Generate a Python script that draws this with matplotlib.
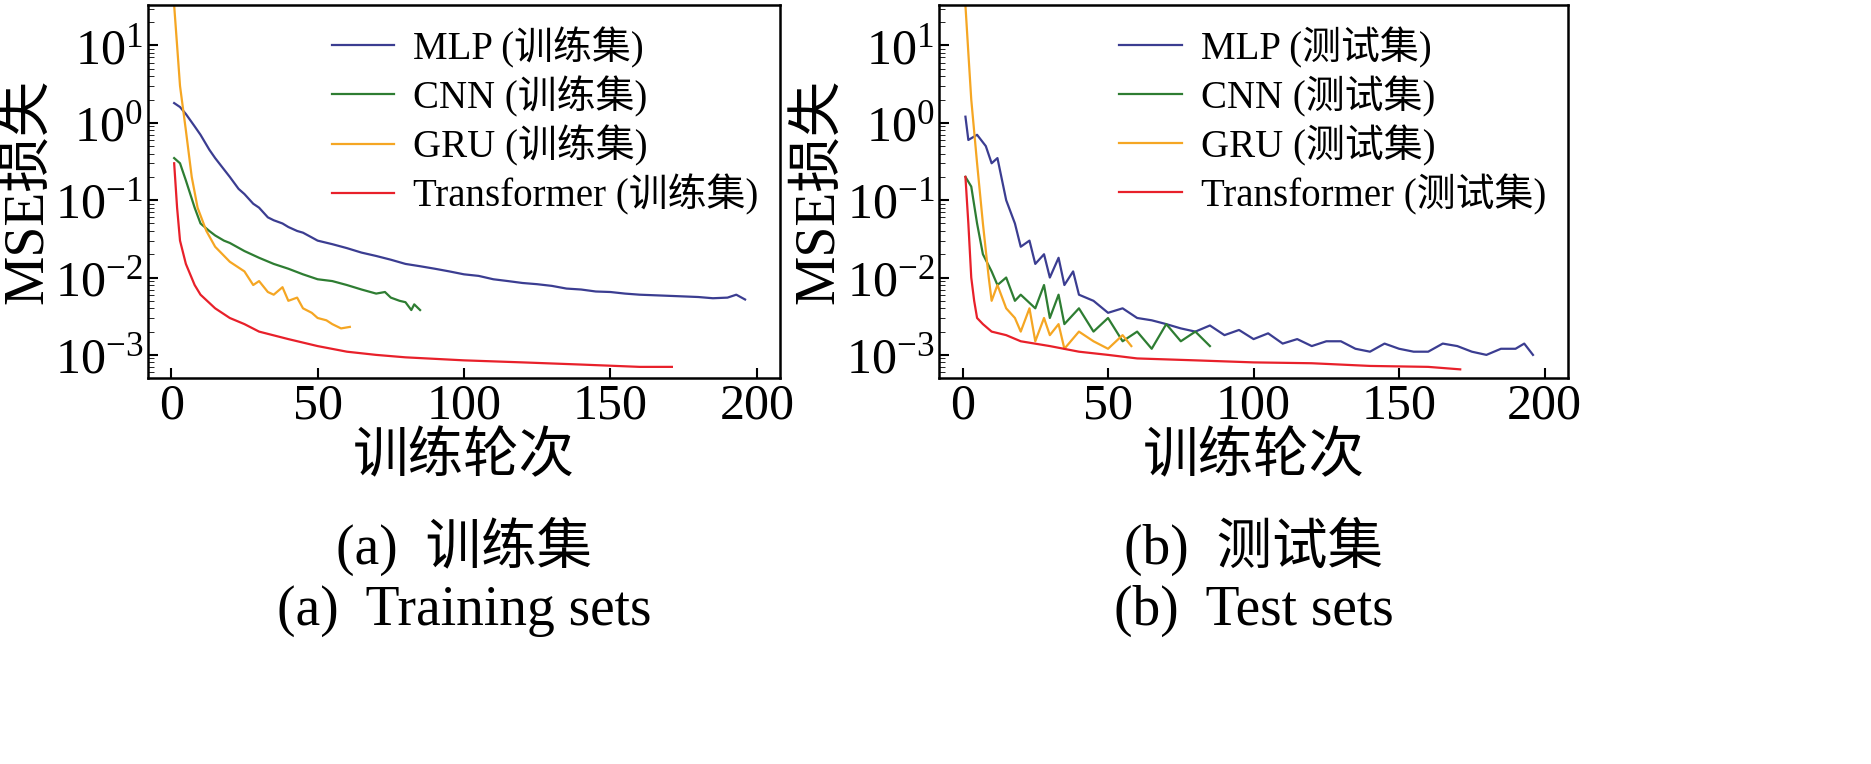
import matplotlib
matplotlib.use("Agg")
import matplotlib.pyplot as plt
from matplotlib.ticker import LogLocator, NullFormatter

plt.rcParams['font.family'] = ['Liberation Serif', 'Noto Sans CJK SC']
plt.rcParams['mathtext.fontset'] = 'stix'

# ---- training set curves (epoch, mse) ----
mlp_tr_x = [1, 3, 5, 8, 10, 13, 15, 18, 20, 23, 25, 28, 30, 33, 35, 38, 40, 43, 45, 48, 50, 55, 60, 65, 70, 75, 80, 85, 90, 95, 100, 105, 110, 115, 120, 125, 130, 135, 140, 145, 150, 155, 160, 165, 170, 175, 180, 185, 190, 193, 196]
mlp_tr_y = [1.8, 1.6, 1.3, 0.9, 0.7, 0.45, 0.35, 0.25, 0.2, 0.14, 0.12, 0.09, 0.08, 0.06, 0.055, 0.05, 0.045, 0.04, 0.038, 0.033, 0.03, 0.027, 0.024, 0.021, 0.019, 0.017, 0.015, 0.014, 0.013, 0.012, 0.011, 0.0105, 0.0095, 0.009, 0.0085, 0.0082, 0.0078, 0.0072, 0.007, 0.0066, 0.0065, 0.0062, 0.006, 0.0059, 0.0058, 0.0057, 0.0056, 0.0054, 0.0055, 0.006, 0.0052]
cnn_tr_x = [1, 3, 5, 8, 10, 13, 15, 18, 20, 25, 30, 35, 40, 45, 50, 55, 60, 65, 70, 73, 75, 78, 80, 82, 83, 85]
cnn_tr_y = [0.35, 0.3, 0.18, 0.08, 0.05, 0.04, 0.035, 0.03, 0.028, 0.022, 0.018, 0.015, 0.013, 0.011, 0.0095, 0.009, 0.008, 0.007, 0.0062, 0.0065, 0.0055, 0.005, 0.0048, 0.0038, 0.0045, 0.0038]
gru_tr_x = [1, 2, 3, 5, 7, 9, 12, 15, 20, 25, 28, 30, 33, 35, 38, 40, 43, 45, 48, 50, 53, 55, 58, 61]
gru_tr_y = [33, 10, 3, 0.8, 0.2, 0.08, 0.04, 0.025, 0.016, 0.012, 0.008, 0.009, 0.0065, 0.006, 0.0075, 0.005, 0.0055, 0.004, 0.0035, 0.003, 0.0028, 0.0025, 0.0022, 0.0023]
trf_tr_x = [1, 2, 3, 5, 8, 10, 15, 20, 25, 30, 40, 50, 60, 70, 80, 100, 120, 140, 160, 171]
trf_tr_y = [0.3, 0.08, 0.03, 0.015, 0.008, 0.006, 0.004, 0.003, 0.0025, 0.002, 0.0016, 0.0013, 0.0011, 0.001, 0.00093, 0.00085, 0.0008, 0.00075, 0.0007, 0.0007]

# ---- test set curves ----
mlp_te_x = [1, 2, 5, 8, 10, 12, 15, 18, 20, 23, 25, 28, 30, 33, 35, 38, 40, 45, 50, 55, 60, 65, 70, 75, 80, 85, 90, 95, 100, 105, 110, 115, 120, 125, 130, 135, 140, 145, 150, 155, 160, 165, 170, 175, 180, 185, 190, 193, 196]
mlp_te_y = [1.2, 0.6, 0.7, 0.5, 0.3, 0.35, 0.1, 0.05, 0.025, 0.03, 0.015, 0.02, 0.01, 0.018, 0.008, 0.012, 0.006, 0.005, 0.0035, 0.004, 0.003, 0.0028, 0.0025, 0.0022, 0.002, 0.0024, 0.0018, 0.0021, 0.0016, 0.0019, 0.0014, 0.0016, 0.0013, 0.0015, 0.0015, 0.0012, 0.0011, 0.0014, 0.0012, 0.0011, 0.0011, 0.0014, 0.0013, 0.0011, 0.001, 0.0012, 0.0012, 0.0014, 0.001]
cnn_te_x = [1, 3, 5, 7, 10, 12, 15, 18, 20, 25, 28, 30, 33, 35, 40, 45, 50, 55, 60, 65, 70, 75, 80, 85]
cnn_te_y = [0.2, 0.15, 0.05, 0.02, 0.012, 0.008, 0.01, 0.005, 0.006, 0.004, 0.008, 0.003, 0.006, 0.0025, 0.004, 0.002, 0.003, 0.0015, 0.002, 0.0012, 0.0025, 0.0015, 0.002, 0.0013]
gru_te_x = [1, 2, 3, 5, 7, 9, 10, 12, 15, 18, 20, 23, 25, 28, 30, 33, 35, 40, 45, 50, 55, 58]
gru_te_y = [33, 8, 2, 0.3, 0.05, 0.01, 0.005, 0.008, 0.004, 0.003, 0.002, 0.004, 0.0015, 0.003, 0.0018, 0.0025, 0.0012, 0.002, 0.0015, 0.0012, 0.0018, 0.0013]
trf_te_x = [1, 2, 3, 4, 5, 7, 10, 15, 20, 30, 40, 50, 60, 80, 100, 120, 140, 160, 171]
trf_te_y = [0.2, 0.05, 0.01, 0.005, 0.003, 0.0025, 0.002, 0.0018, 0.0015, 0.0013, 0.0011, 0.001, 0.0009, 0.00085, 0.0008, 0.00078, 0.00072, 0.0007, 0.00065]

colors = ['#3b3d91', '#2e7d32', '#f5a623', '#e8202a']
names = ['MLP', 'CNN', 'GRU', 'Transformer']

fig = plt.figure(figsize=(18.71, 7.64), dpi=100)
ax1 = fig.add_axes([0.079, 0.505, 0.338, 0.488])
ax2 = fig.add_axes([0.502, 0.505, 0.336, 0.488])

train = [(mlp_tr_x, mlp_tr_y), (cnn_tr_x, cnn_tr_y), (gru_tr_x, gru_tr_y), (trf_tr_x, trf_tr_y)]
test = [(mlp_te_x, mlp_te_y), (cnn_te_x, cnn_te_y), (gru_te_x, gru_te_y), (trf_te_x, trf_te_y)]

for ax, data, tag in [(ax1, train, '训练集'), (ax2, test, '测试集')]:
    for (x, y), c, n in zip(data, colors, names):
        ax.plot(x, y, color=c, lw=1.6, label='%s (%s)' % (n, tag))
    ax.set_yscale('log')
    ax.set_xlim(-8, 208)
    ax.set_ylim(5e-4, 33)
    ax.yaxis.set_major_locator(LogLocator(base=10, numticks=12))
    ax.yaxis.set_minor_locator(LogLocator(base=10, subs=range(2, 10), numticks=12))
    ax.yaxis.set_minor_formatter(NullFormatter())
    ax.set_xticks([0, 50, 100, 150, 200])
    ax.tick_params(direction='in', labelsize=36, width=1.5, length=7, which='major')
    ax.tick_params(direction='in', which='minor', length=4)
    for s in ax.spines.values():
        s.set_linewidth(1.8)
    ax.set_xlabel('训练轮次', fontsize=40, labelpad=2)
    ax.set_ylabel('MSE损失', fontsize=40, labelpad=0)
    ax.legend(loc='upper right', frameon=False, fontsize=28, handlelength=1.6,
              borderaxespad=0.15, labelspacing=0.2, handletextpad=0.5)

fig.text(0.248, 0.285, '(a)  训练集', ha='center', va='center', fontsize=40)
fig.text(0.248, 0.2, '(a)  Training sets', ha='center', va='center', fontsize=40)
fig.text(0.67, 0.285, '(b)  测试集', ha='center', va='center', fontsize=40)
fig.text(0.67, 0.2, '(b)  Test sets', ha='center', va='center', fontsize=40)

fig.savefig('out.png', dpi=100)
